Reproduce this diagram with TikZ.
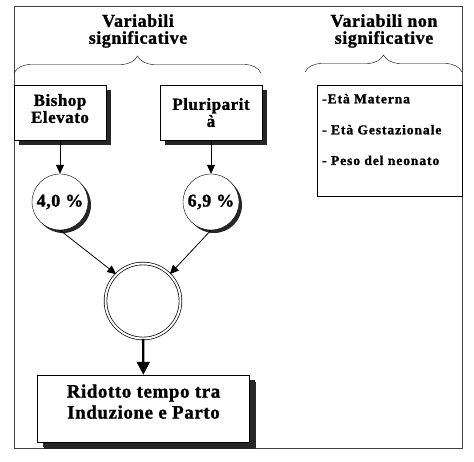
\documentclass[tikz,border=0pt]{standalone}
\usepackage{fontspec}
\setmainfont[LetterSpace=3,FakeBold=1.2]{Liberation Serif}
\usetikzlibrary{arrows.meta,shadows,decorations.pathreplacing}

\tikzset{
  heading/.style={align=center, font=\bfseries\fontsize{18}{17}\selectfont},
  varbox/.style={draw, fill=white, align=center, minimum height=55pt,
    font=\bfseries\fontsize{17}{17}\selectfont,
    drop shadow={shadow xshift=5pt, shadow yshift=-5pt, fill=black!85, opacity=1}},
  pctnode/.style={draw, circle, fill=white, minimum size=56pt, inner sep=0pt,
    font=\bfseries\fontsize{18}{20}\selectfont,
    drop shadow={shadow xshift=3pt, shadow yshift=-3pt, fill=black!85, opacity=1}},
  item/.style={anchor=base west, inner sep=0pt,
    font=\bfseries\fontsize{13.5}{16}\selectfont\addfontfeature{LetterSpace=7}},
  bracket/.style={decorate, decoration={brace, amplitude=17pt}},
  arr/.style={-{Triangle[length=9pt,width=8pt]}, line width=0.8pt},
  bigarr/.style={-{Triangle[length=13pt,width=13pt]}, line width=2.4pt}
}

\begin{document}
\begin{tikzpicture}[x=1pt,y=-1pt]
\useasboundingbox (0,0) rectangle (474,462);

\draw[line width=0.9pt, black!75] (14,6) rectangle (462,448);

\node[heading] (sigtitle) at (138,31) {Variabili\\significative};
\node[heading] (nonsigtitle) at (384,31) {Variabili non\\significative};
\draw[bracket] (14,73) -- (261,73);
\draw[bracket] (305,72) -- (462,72);

\node[varbox, minimum width=92pt, text depth=8pt] (bishop) at (60,112.5) {Bishop\\Elevato};
\node[varbox, minimum width=102pt] (pluri) at (211,112.5) {Pluriparit\\à};

\node[draw, minimum width=145pt, minimum height=111pt] (nonsig) at (389.5,140.5) {};
\node[item] (maternal) at (322,103.3) {-Età Materna};
\node[item] (gestation) at (322,134.3) {- Età Gestazionale};
\node[item] (weight) at (322,165) {- Peso del neonato};

\node[pctnode] (bishoppct) at (60,202) {4,0 \%};
\node[pctnode] (pluripct) at (211,202) {6,9 \%};

\node[draw, circle, double, double distance=2pt, line width=0.7pt, minimum size=75pt] (effect) at (143,301) {};

\node[varbox, minimum width=212pt, minimum height=67pt, text depth=14pt,
  font=\bfseries\fontsize{19}{21}\selectfont,
  drop shadow={shadow xshift=6pt, shadow yshift=-7pt, fill=black!85, opacity=1}] (result) at (143.5,408.5)
  {Ridotto tempo tra\\Induzione e Parto};

\draw[arr] (bishop) -- (bishoppct);
\draw[arr] (pluri) -- (pluripct);
\draw[arr] (bishoppct.south) -- (effect.north west);
\draw[arr] (pluripct.south) -- (effect.north east);
\draw[bigarr] (effect) -- (result);

\end{tikzpicture}
\end{document}
